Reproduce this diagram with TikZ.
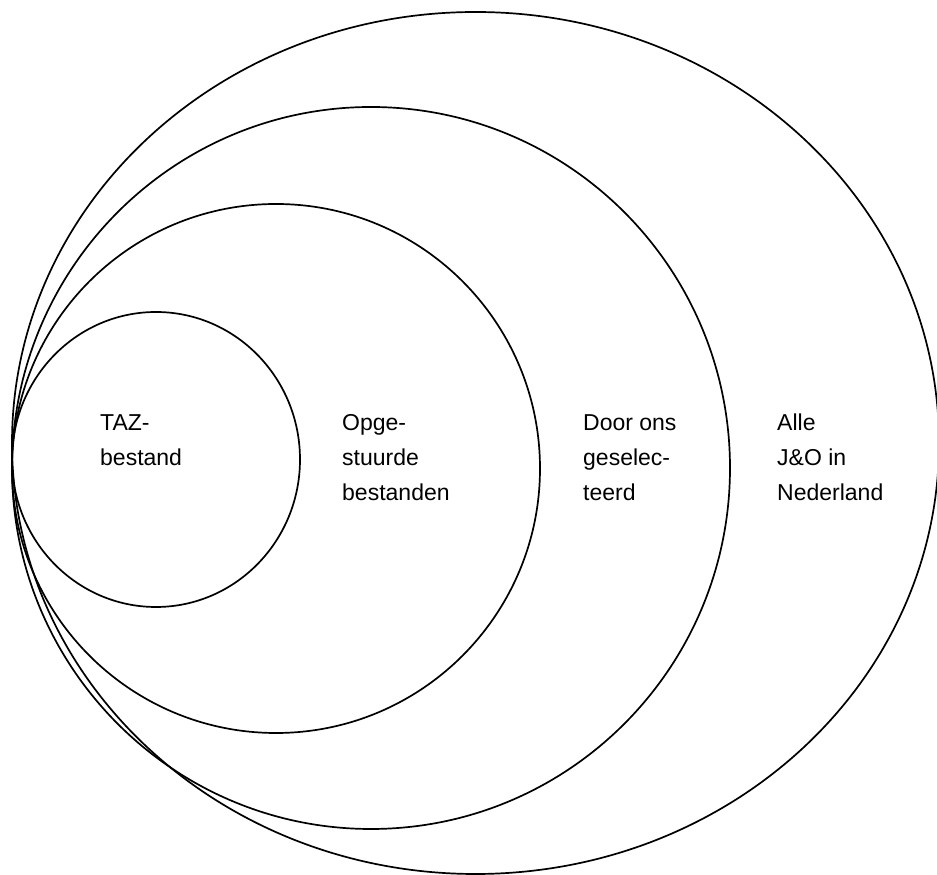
\documentclass[tikz,border=0pt]{standalone}
\usepackage{fontspec}
\setmainfont{Liberation Sans}
\usetikzlibrary{shapes.geometric}
\begin{document}
\begin{tikzpicture}[x=1pt,y=1pt,
  ring/.style={draw=black, line width=1.7pt, ellipse, inner sep=0pt, fill=none},
  lbl/.style={anchor=base west, inner sep=0pt, font=\fontsize{23}{35}\selectfont}]
\useasboundingbox (0,0) rectangle (937,875);
\clip (0,0) rectangle (937,875);
\fill[white] (0,0) rectangle (937,875);
\node[ring, minimum width=927pt, minimum height=862pt] (outer) at (475.5,432) {};
\node[ring, minimum width=718pt, minimum height=722pt] (second) at (371,407) {};
\node[ring, minimum width=528pt, minimum height=529pt] (third) at (276,406.5) {};
\node[ring, minimum width=288pt, minimum height=295pt] (fourth) at (156,415.5) {};
\node[lbl] (taz) at (100,444) {\vtop{\hbox{TAZ-}\hbox{bestand}}};
\node[lbl] (opge) at (342,444) {\vtop{\hbox{Opge-}\hbox{stuurde}\hbox{bestanden}}};
\node[lbl] (door) at (583,444) {\vtop{\hbox{Door ons}\hbox{geselec-}\hbox{teerd}}};
\node[lbl] (alle) at (777,444) {\vtop{\hbox{Alle}\hbox{J\&O in}\hbox{Nederland}}};
\end{tikzpicture}
\end{document}
